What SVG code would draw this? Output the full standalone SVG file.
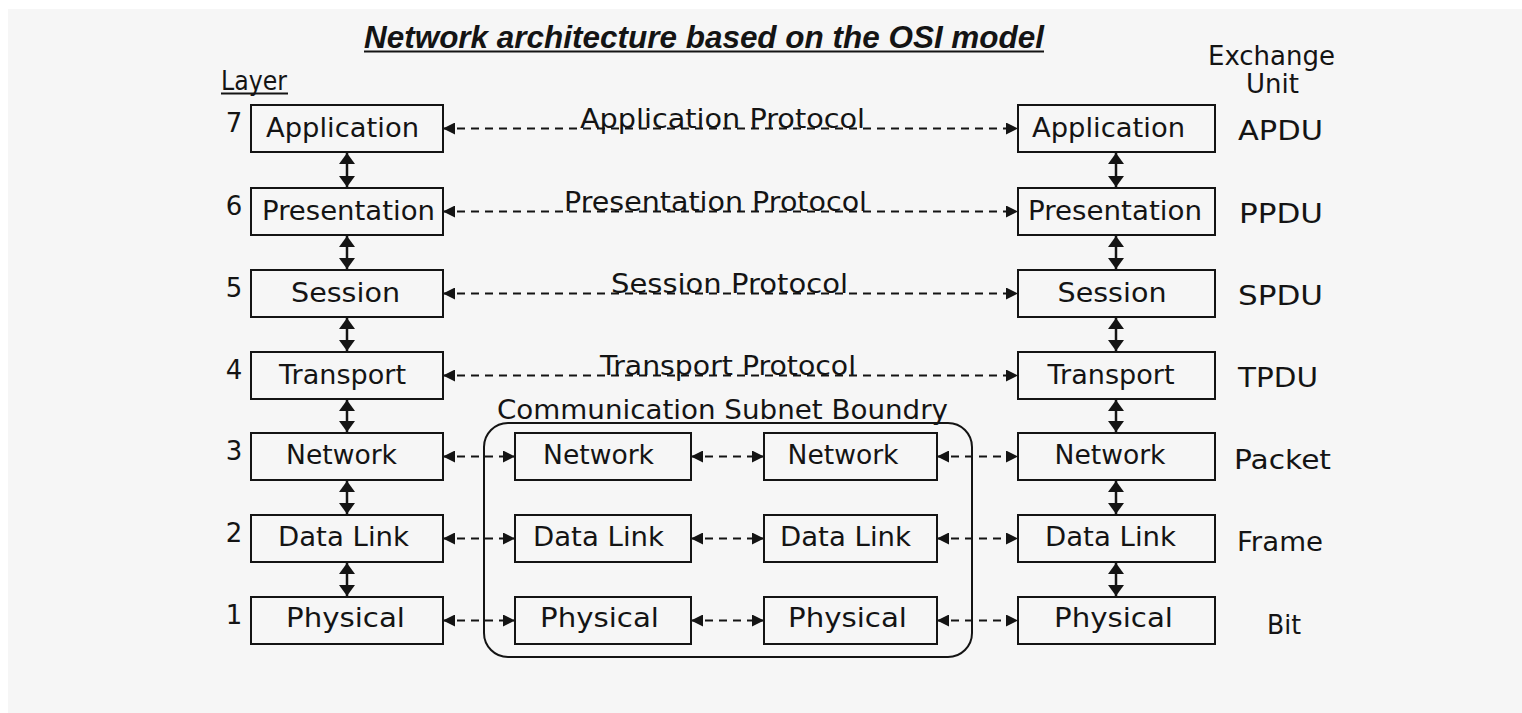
<svg xmlns="http://www.w3.org/2000/svg" width="1522" height="713" viewBox="0 0 1522 713">
<style>
.bg{fill:#f6f6f6}
.box{fill:none;stroke:#141414;stroke-width:2}
.t{font-family:"DejaVu Sans","Liberation Sans",sans-serif;font-size:26px;fill:#141414}
.m{text-anchor:middle}
.title{font-family:"Liberation Sans",Arial,sans-serif;font-size:31px;font-weight:bold;font-style:italic;fill:#141414}
.dash{stroke:#141414;stroke-width:2;stroke-dasharray:8 6;fill:none;marker-start:url(#ah);marker-end:url(#ah)}
.vert{stroke:#141414;stroke-width:2.5;fill:none;marker-start:url(#vh);marker-end:url(#vh)}
.ul{stroke:#141414;stroke-width:2}
</style>
<defs>
<marker id="ah" viewBox="0 0 12 12" refX="12" refY="6" markerWidth="12" markerHeight="12" markerUnits="userSpaceOnUse" orient="auto-start-reverse"><path d="M0,0 L12,6 L0,12 z" fill="#141414"/></marker>
<marker id="vh" viewBox="0 0 11 16" refX="11" refY="8" markerWidth="11" markerHeight="16" markerUnits="userSpaceOnUse" orient="auto-start-reverse"><path d="M0,0 L11,8 L0,16 z" fill="#141414"/></marker>
</defs>
<rect width="1522" height="713" fill="#ffffff"/>
<rect class="bg" x="8" y="9" width="1514" height="704"/>

<g id="title">
<text class="title" x="364" y="48" textLength="680" lengthAdjust="spacingAndGlyphs">Network architecture based on the OSI model</text>
<line class="ul" x1="364" y1="51.5" x2="1044" y2="51.5" stroke-width="2.5"/>
</g>

<g id="headers">
<text class="t" x="221" y="90" textLength="66" lengthAdjust="spacingAndGlyphs">Layer</text>
<line class="ul" x1="221" y1="93.5" x2="288" y2="93.5" stroke-width="1.5"/>
<text class="t m" x="1271.5" y="65">Exchange</text>
<text class="t m" x="1272.5" y="93">Unit</text>
</g>

<g id="layer-numbers">
<text class="t m" x="234" y="132">7</text>
<text class="t m" x="234" y="215">6</text>
<text class="t m" x="234" y="297">5</text>
<text class="t m" x="234" y="379">4</text>
<text class="t m" x="234" y="460">3</text>
<text class="t m" x="234" y="542">2</text>
<text class="t m" x="234" y="624">1</text>
</g>

<g id="boundary">
<rect class="box" x="484" y="423" width="488" height="234" rx="24"/>
<text class="t m" x="722.5" y="419" textLength="451" lengthAdjust="spacingAndGlyphs">Communication Subnet Boundry</text>
</g>

<g id="connectors">
<line class="dash" x1="443" y1="128.5" x2="1018" y2="128.5"/>
<line class="dash" x1="443" y1="211.5" x2="1018" y2="211.5"/>
<line class="dash" x1="443" y1="293.5" x2="1018" y2="293.5"/>
<line class="dash" x1="443" y1="375.5" x2="1018" y2="375.5"/>
<line class="dash" x1="443" y1="456.5" x2="515" y2="456.5"/>
<line class="dash" x1="691" y1="456.5" x2="764" y2="456.5"/>
<line class="dash" x1="937" y1="456.5" x2="1018" y2="456.5"/>
<line class="dash" x1="443" y1="538.5" x2="515" y2="538.5"/>
<line class="dash" x1="691" y1="538.5" x2="764" y2="538.5"/>
<line class="dash" x1="937" y1="538.5" x2="1018" y2="538.5"/>
<line class="dash" x1="443" y1="620.5" x2="515" y2="620.5"/>
<line class="dash" x1="691" y1="620.5" x2="764" y2="620.5"/>
<line class="dash" x1="937" y1="620.5" x2="1018" y2="620.5"/>
<line class="vert" x1="347" y1="153" x2="347" y2="187"/>
<line class="vert" x1="347" y1="236" x2="347" y2="269"/>
<line class="vert" x1="347" y1="318" x2="347" y2="351"/>
<line class="vert" x1="347" y1="400" x2="347" y2="432"/>
<line class="vert" x1="347" y1="481" x2="347" y2="514"/>
<line class="vert" x1="347" y1="563" x2="347" y2="596"/>
<line class="vert" x1="1116" y1="153" x2="1116" y2="187"/>
<line class="vert" x1="1116" y1="236" x2="1116" y2="269"/>
<line class="vert" x1="1116" y1="318" x2="1116" y2="351"/>
<line class="vert" x1="1116" y1="400" x2="1116" y2="432"/>
<line class="vert" x1="1116" y1="481" x2="1116" y2="514"/>
<line class="vert" x1="1116" y1="563" x2="1116" y2="596"/>
<text class="t m" x="722.5" y="127.5" textLength="285" lengthAdjust="spacingAndGlyphs">Application Protocol</text>
<text class="t m" x="715.5" y="210.5" textLength="303" lengthAdjust="spacingAndGlyphs">Presentation Protocol</text>
<text class="t m" x="729.5" y="292.5" textLength="237" lengthAdjust="spacingAndGlyphs">Session Protocol</text>
<text class="t m" x="728" y="374.5" textLength="256" lengthAdjust="spacingAndGlyphs">Transport Protocol</text>
</g>

<g id="L-application"><rect class="box" x="251" y="105" width="192" height="47"/><text class="t m" x="342.5" y="137" textLength="153" lengthAdjust="spacingAndGlyphs">Application</text></g>
<g id="L-presentation"><rect class="box" x="251" y="188" width="192" height="47"/><text class="t m" x="348.5" y="220" textLength="173" lengthAdjust="spacingAndGlyphs">Presentation</text></g>
<g id="L-session"><rect class="box" x="251" y="270" width="192" height="47"/><text class="t m" x="345.5" y="302" textLength="109" lengthAdjust="spacingAndGlyphs">Session</text></g>
<g id="L-transport"><rect class="box" x="251" y="352" width="192" height="47"/><text class="t m" x="342.5" y="384" textLength="127" lengthAdjust="spacingAndGlyphs">Transport</text></g>
<g id="L-network"><rect class="box" x="251" y="433" width="192" height="47"/><text class="t m" x="341.5" y="464" textLength="111" lengthAdjust="spacingAndGlyphs">Network</text></g>
<g id="L-datalink"><rect class="box" x="251" y="515" width="192" height="47"/><text class="t m" x="343.5" y="546" textLength="131" lengthAdjust="spacingAndGlyphs">Data Link</text></g>
<g id="L-physical"><rect class="box" x="251" y="597" width="192" height="47"/><text class="t m" x="345.5" y="627" textLength="119" lengthAdjust="spacingAndGlyphs">Physical</text></g>

<g id="M1-network"><rect class="box" x="515" y="433" width="176" height="47"/><text class="t m" x="598.5" y="464" textLength="111" lengthAdjust="spacingAndGlyphs">Network</text></g>
<g id="M1-datalink"><rect class="box" x="515" y="515" width="176" height="47"/><text class="t m" x="598.5" y="546" textLength="131" lengthAdjust="spacingAndGlyphs">Data Link</text></g>
<g id="M1-physical"><rect class="box" x="515" y="597" width="176" height="47"/><text class="t m" x="599.5" y="627" textLength="119" lengthAdjust="spacingAndGlyphs">Physical</text></g>

<g id="M2-network"><rect class="box" x="764" y="433" width="173" height="47"/><text class="t m" x="843" y="464" textLength="111" lengthAdjust="spacingAndGlyphs">Network</text></g>
<g id="M2-datalink"><rect class="box" x="764" y="515" width="173" height="47"/><text class="t m" x="845.5" y="546" textLength="131" lengthAdjust="spacingAndGlyphs">Data Link</text></g>
<g id="M2-physical"><rect class="box" x="764" y="597" width="173" height="47"/><text class="t m" x="847.5" y="627" textLength="119" lengthAdjust="spacingAndGlyphs">Physical</text></g>

<g id="R-application"><rect class="box" x="1018" y="105" width="197" height="47"/><text class="t m" x="1108.5" y="137" textLength="153" lengthAdjust="spacingAndGlyphs">Application</text></g>
<g id="R-presentation"><rect class="box" x="1018" y="188" width="197" height="47"/><text class="t m" x="1115" y="220" textLength="174" lengthAdjust="spacingAndGlyphs">Presentation</text></g>
<g id="R-session"><rect class="box" x="1018" y="270" width="197" height="47"/><text class="t m" x="1112" y="302" textLength="109" lengthAdjust="spacingAndGlyphs">Session</text></g>
<g id="R-transport"><rect class="box" x="1018" y="352" width="197" height="47"/><text class="t m" x="1111" y="384" textLength="127" lengthAdjust="spacingAndGlyphs">Transport</text></g>
<g id="R-network"><rect class="box" x="1018" y="433" width="197" height="47"/><text class="t m" x="1110" y="464" textLength="111" lengthAdjust="spacingAndGlyphs">Network</text></g>
<g id="R-datalink"><rect class="box" x="1018" y="515" width="197" height="47"/><text class="t m" x="1110.5" y="546" textLength="131" lengthAdjust="spacingAndGlyphs">Data Link</text></g>
<g id="R-physical"><rect class="box" x="1018" y="597" width="197" height="47"/><text class="t m" x="1113.5" y="627" textLength="119" lengthAdjust="spacingAndGlyphs">Physical</text></g>

<g id="exchange-units">
<text class="t m" x="1280.5" y="140" textLength="85" lengthAdjust="spacingAndGlyphs">APDU</text>
<text class="t m" x="1281" y="223" textLength="84" lengthAdjust="spacingAndGlyphs">PPDU</text>
<text class="t m" x="1280.5" y="305" textLength="85" lengthAdjust="spacingAndGlyphs">SPDU</text>
<text class="t m" x="1278" y="387" textLength="80" lengthAdjust="spacingAndGlyphs">TPDU</text>
<text class="t m" x="1282.5" y="469" textLength="97" lengthAdjust="spacingAndGlyphs">Packet</text>
<text class="t m" x="1280" y="551" textLength="86" lengthAdjust="spacingAndGlyphs">Frame</text>
<text class="t m" x="1284" y="634" textLength="34" lengthAdjust="spacingAndGlyphs">Bit</text>
</g>
</svg>
